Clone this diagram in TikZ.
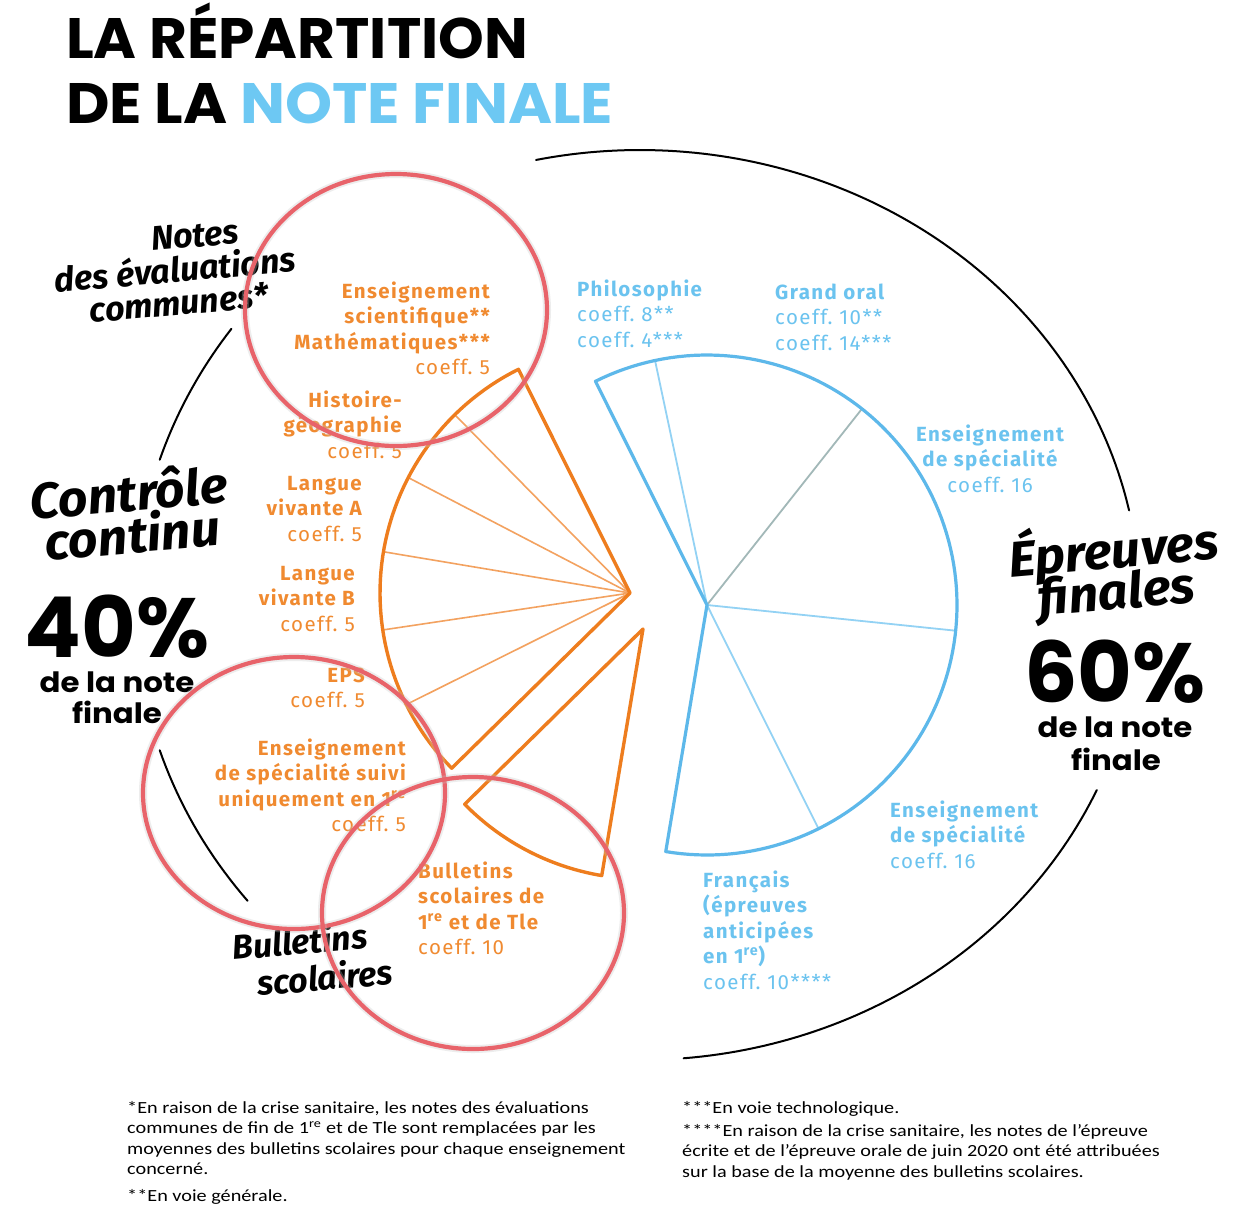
\documentclass[tikz,border=0pt]{standalone}
\usepackage{fontspec}
\setmainfont{Fira Sans}
\newfontfamily\titlefont{Poppins}
\newfontfamily\labfont{Fira Sans}[LetterSpace=7]
\newfontfamily\handfont{Fira Sans}
\newfontfamily\notefont{Carlito}
\usetikzlibrary{calc}
\definecolor{orline}{HTML}{EE7D1E}
\definecolor{orthin}{HTML}{F3A260}
\definecolor{ortext}{HTML}{F08A30}
\definecolor{blline}{HTML}{5DB8EA}
\definecolor{blthin}{HTML}{93D2F4}
\definecolor{bltext}{HTML}{6BC3EF}
\definecolor{grline}{HTML}{A2B8B8}
\definecolor{redc}{HTML}{E8636A}
\definecolor{titleblue}{HTML}{6DC8F3}
\newcommand\linesR[1]{\begin{tabular}[t]{@{}r@{}}#1\end{tabular}}
\newcommand\linesL[1]{\begin{tabular}[t]{@{}l@{}}#1\end{tabular}}
\newcommand\linesC[1]{\begin{tabular}[t]{@{}c@{}}#1\end{tabular}}
\begin{document}
\begin{tikzpicture}[x=1pt,y=-1pt,
  othick/.style={draw=orline, line width=3.4pt, line join=round, line cap=round},
  othin/.style={draw=orthin, line width=1.6pt},
  bthick/.style={draw=blline, line width=3.2pt, line join=round, line cap=round},
  bthin/.style={draw=blthin, line width=1.8pt},
  bgrey/.style={draw=grline, line width=1.8pt},
  arcline/.style={draw=black, line width=2pt, line cap=round},
  redring/.style={draw=redc, line width=4.2pt},
  ringshadow/.style={draw=gray!45, line width=8pt, opacity=0.3},
  olab/.style={inner sep=0pt, text=ortext, font=\labfont\fontsize{20.5}{25.5}\selectfont\bfseries},
  blab/.style={inner sep=0pt, text=bltext, font=\labfont\fontsize{20.5}{25.5}\selectfont\bfseries},
  hand/.style={inner sep=0pt, anchor=base, rotate=5, text depth=0pt, font=\handfont\itshape\bfseries\fontsize{34}{36}\selectfont},
  handbig/.style={inner sep=0pt, anchor=base, rotate=5, xscale=1.04, text depth=0pt, text height=30pt, font=\handfont\itshape\bfseries\fontsize{50}{52}\selectfont},
  ttl/.style={inner sep=0pt, anchor=base west, font=\titlefont\bfseries\fontsize{57}{60}\selectfont},
  pct/.style={inner sep=0pt, anchor=base, text depth=0pt, font=\titlefont\bfseries\fontsize{84}{86}\selectfont},
  pctsub/.style={inner sep=0pt, anchor=base, xscale=1.1, text height=18pt, text depth=0pt, font=\titlefont\bfseries\fontsize{28}{30}\selectfont},
  fnote/.style={inner sep=0pt, anchor=base west, xscale=1.19, font=\notefont\fontsize{17}{20.5}\selectfont},
]
\fill[white] (0,0) rectangle (1241,1227);
\useasboundingbox (0,0) rectangle (1241,1227);

% title
\node[ttl, xscale=1.02] (t1) at (66,58) {LA RÉPARTITION};
\node[ttl, xscale=1.05] (t2) at (66,123) {DE LA \textcolor{titleblue}{NOTE FINALE}};

% black outer arcs
\draw[arcline] plot[domain=-102:-12, samples=90] ({640+500*cos(\x)},{605+455*sin(\x)});
\draw[arcline] plot[domain=24:85, samples=60] ({640+500*cos(\x)},{605+455*sin(\x)});
\draw[arcline] plot[domain=-162:-144, samples=20] ({640+505*cos(\x)},{605+470*sin(\x)});
\draw[arcline] plot[domain=141:162, samples=20] ({640+505*cos(\x)},{605+470*sin(\x)});

% orange fan (controle continu)
\coordinate (O) at (630,593);
\foreach \a in {153.5,171.5,189.5,207.5,225.5}
  \draw[othin] (O) -- ({630+250*cos(\a)},{593+250*sin(\a)});
\draw[othick] ({630+250*cos(243.5)},{593+250*sin(243.5)}) -- (O)
  -- plot[domain=135.5:243.5, samples=60] ({630+250*cos(\x)},{593+250*sin(\x)}) -- cycle;

% bulletins sector
\coordinate (B) at (643,629);
\draw[othick] (B) -- plot[domain=99.5:135.5, samples=30] ({643+250*cos(\x)},{629+250*sin(\x)}) -- cycle;

% blue pie (epreuves finales)
\coordinate (C) at (707,605);
\draw[bthin] (C) -- ({707+250*cos(258)},{605+250*sin(258)});
\draw[bgrey] (C) -- ({707+250*cos(308.3)},{605+250*sin(308.3)});
\draw[bthin] (C) -- ({707+250*cos(5.9)},{605+250*sin(5.9)});
\draw[bthin] (C) -- ({707+250*cos(63.5)},{605+250*sin(63.5)});
\draw[bthick] (C) -- plot[domain=243.5:459.5, samples=120] ({707+250*cos(\x)},{605+250*sin(\x)}) -- cycle;

% orange labels
\node[olab, anchor=base east] (es) at (490,298) {\linesR{Enseignement\\scientifique**\\Mathématiques***\\\mdseries coeff.~5}};
\node[olab, anchor=base east] (hg) at (402,407) {\linesR{Histoire-\\géographie\\\mdseries coeff.~5}};
\node[olab, anchor=base east] (lva) at (362,490) {\linesR{Langue\\vivante A\\\mdseries coeff.~5}};
\node[olab, anchor=base east] (lvb) at (355,580) {\linesR{Langue\\vivante B\\\mdseries coeff.~5}};
\node[olab, anchor=base east] (eps) at (365,682) {\linesR{EPS\\\mdseries coeff.~5}};
\node[olab, anchor=base east] (spe1) at (406,755) {\linesR{Enseignement\\de spécialité suivi\\uniquement en 1\textsuperscript{re}\\\mdseries coeff.~5}};
\node[olab, anchor=base west] (bul) at (418,878) {\linesL{Bulletins\\scolaires de\\1\textsuperscript{re} et de Tle\\\mdseries coeff.~10}};

% blue labels
\node[blab, anchor=base west] (phi) at (577,296) {\linesL{Philosophie\\\mdseries coeff.~8**\\\mdseries coeff.~4***}};
\node[blab, anchor=base west] (go) at (775,299) {\linesL{Grand oral\\\mdseries coeff.~10**\\\mdseries coeff.~14***}};
\node[blab, anchor=base] (sp1) at (990,441) {\linesC{Enseignement\\de spécialité\\\mdseries coeff.~16}};
\node[blab, anchor=base west] (sp2) at (890,817) {\linesL{Enseignement\\de spécialité\\\mdseries coeff.~16}};
\node[blab, anchor=base west] (fr) at (703,887) {\linesL{Français\\(épreuves\\anticipées\\en 1\textsuperscript{re})\\\mdseries coeff.~10****}};

% black labels
\node[hand] (n1) at (196,247) {Notes};
\node[hand] (n2) at (176,282) {des évaluations};
\node[hand] (n3) at (180,315) {communes*};
\node[handbig] (cc1) at (130,511) {Contrôle};
\node[handbig] (cc2) at (134,553) {continu};
\node[pct] (p40) at (117,657) {40\%};
\node[pctsub] (s40a) at (117,692) {de la note};
\node[pctsub] (s40b) at (117,723) {finale};
\node[hand] (bs1) at (301,954) {Bulletins};
\node[hand] (bs2) at (326,990) {scolaires};
\node[handbig] (ef1) at (1115,568) {Épreuves};
\node[handbig] (ef2) at (1118,609) {finales};
\node[pct] (p60) at (1115,702) {60\%};
\node[pctsub] (s60a) at (1115,737) {de la note};
\node[pctsub] (s60b) at (1116,770) {finale};

% footnotes
\node[fnote] (f1) at (127,1113) {\linesL{*En raison de la crise sanitaire, les notes des évaluations\\communes de fin de 1\textsuperscript{re} et de Tle sont remplacées par les\\moyennes des bulletins scolaires pour chaque enseignement\\concerné.}};
\node[fnote] (f2) at (127,1201) {**En voie générale.};
\node[fnote] (f3) at (682,1113) {***En voie technologique.};
\node[fnote] (f4) at (682,1136) {\linesL{****En raison de la crise sanitaire, les notes de l’épreuve\\écrite et de l’épreuve orale de juin 2020 ont été attribuées\\sur la base de la moyenne des bulletins scolaires.}};

% red highlight rings
\foreach \cx/\cy in {396/310, 294/793, 473/913} {
  \draw[ringshadow] (\cx,\cy) ellipse[x radius=151, y radius=136];
  \draw[redring] (\cx,\cy) ellipse[x radius=151, y radius=136];
}
\end{tikzpicture}
\end{document}
